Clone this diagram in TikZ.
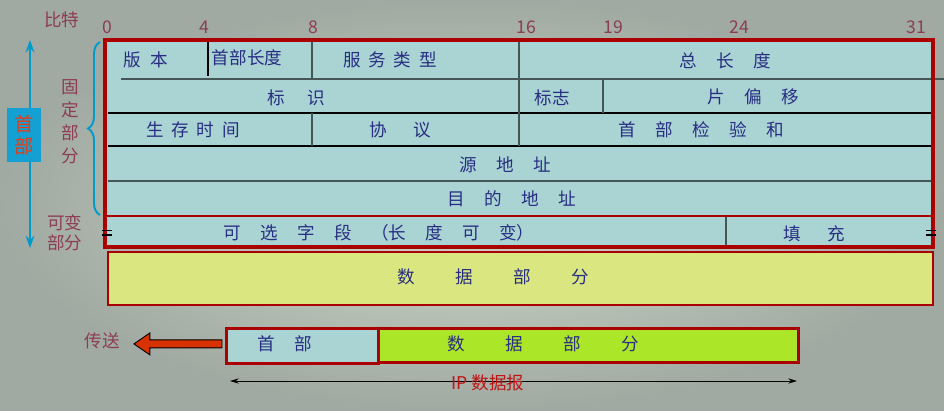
\documentclass[tikz,border=0pt]{standalone}
\usepackage{fontspec}
\newfontfamily\cjk{Noto Sans CJK SC}
\usetikzlibrary{calc,arrows.meta,decorations.pathreplacing}
\definecolor{bgin}{RGB}{208,216,200}
\definecolor{bgout}{RGB}{160,170,162}
\definecolor{cellblue}{RGB}{170,212,212}
\definecolor{txtblue}{RGB}{40,45,130}
\definecolor{framered}{RGB}{170,0,0}
\definecolor{datayellow}{RGB}{218,230,128}
\definecolor{datagreen}{RGB}{172,230,40}
\definecolor{maroon}{RGB}{140,60,85}
\definecolor{arrowblue}{RGB}{0,155,205}
\definecolor{headbox}{RGB}{20,160,210}
\definecolor{headtext}{RGB}{230,60,20}
\definecolor{sendred}{RGB}{215,50,0}
\definecolor{iptext}{RGB}{190,20,20}
\definecolor{gridgray}{RGB}{70,85,85}
\newcommand\gp[1]{\hspace{#1pt}}
\tikzset{
  celltext/.style={font=\cjk\fontsize{10}{12}\selectfont, text=txtblue, inner sep=0pt},
  sidetext/.style={font=\cjk\fontsize{10}{12}\selectfont, text=maroon, inner sep=0pt},
  bitnum/.style={font=\cjk\fontsize{10}{12}\selectfont, text=maroon, inner sep=0pt},
  gridline/.style={draw=gridgray, line width=0.9pt},
  blackline/.style={draw=black, line width=0.7pt},
}
\begin{document}
\begin{tikzpicture}[x=0.02cm,y=-0.02cm]
\useasboundingbox (0,0) rectangle (944,410);
\shade[inner color=bgin, outer color=bgout] (0,0) rectangle (944,410);

% bit scale
\node[sidetext] (bit) at (62,20) {比特};
\node[bitnum] (b0) at (107,27) {0};
\node[bitnum] (b4) at (204,27) {4};
\node[bitnum] (b8) at (313,27) {8};
\node[bitnum] (b16) at (526,27) {16};
\node[bitnum] (b19) at (613,27) {19};
\node[bitnum] (b24) at (739,27) {24};
\node[bitnum] (b31) at (916,27) {31};

% header table fill
\fill[cellblue] (105,40) rectangle (933,247);
% grid lines
\draw[gridline] (121,79) -- (944,79);
\draw[blackline] (108,113) -- (932,113);
\draw[blackline] (108,146) -- (932,146);
\draw[gridline] (108,181) -- (932,181);
\draw[blackline] (208,42) -- (208,76);
\draw[gridline] (312,42) -- (312,78);
\draw[gridline] (519,42) -- (519,146);
\draw[gridline] (603,79) -- (603,113);
\draw[gridline] (312,113) -- (312,146);
\draw[gridline] (726,216) -- (726,247);
\draw[draw=framered, line width=1.6pt] (105,216) -- (933,216);
\draw[draw=framered, line width=2.8pt] (105,40) rectangle (933,247);

% break marks
\draw[black, line width=0.9pt] (102,230.5) -- (112,230.5) (102,235) -- (112,235);
\draw[black, line width=0.9pt] (926,230.5) -- (936,230.5) (926,235) -- (936,235);

% cell texts
\node[celltext] (ver) at (146,60) {版\gp{5.5}本};
\node[celltext] (ihl) at (247,58) {首部长度};
\node[celltext] (tos) at (390,60) {服\gp{4.5}务\gp{4.5}类\gp{4.5}型};
\node[celltext] (tlen) at (725,61) {总\gp{11}长\gp{11}度};
\node[celltext] (ident) at (296,98) {标\gp{13}识};
\node[celltext] (flags) at (552,98) {标志};
\node[celltext] (frag) at (753,97) {片\gp{11}偏\gp{11}移};
\node[celltext] (ttl) at (193,130) {生\gp{4.5}存\gp{4.5}时\gp{4.5}间};
\node[celltext] (proto) at (400,130) {协\gp{15}议};
\node[celltext] (csum) at (701,130) {首\gp{11}部\gp{11}检\gp{11}验\gp{11}和};
\node[celltext] (src) at (505,165) {源\gp{11}地\gp{11}址};
\node[celltext] (dst) at (512,199) {目\gp{11}的\gp{11}地\gp{11}址};
\node[celltext] (opt) at (379,233) {可\gp{11}选\gp{11}字\gp{11}段\gp{11}（长\gp{11}度\gp{11}可\gp{11}变）};
\node[celltext] (pad) at (814,234) {填\gp{15}充};

% data part
\node[draw=framered, fill=datayellow, line width=1.2pt, minimum width=825*0.02cm, minimum height=53*0.02cm, anchor=north west, inner sep=0pt] (data) at (107,251) {};
\node[celltext] (datatxt) at (493,277) {数\gp{23}据\gp{23}部\gp{23}分};

% left side
\node[sidetext, align=center] (fixed) at (70,122) {固\\[1pt]定\\[1pt]部\\[1pt]分};
\node[sidetext, align=center] (var) at (65,233) {可变\\[-0.5pt]部分};
\coordinate (brtop) at (100,42);
\coordinate (brbot) at (100,215);
\draw[arrowblue, line width=1.1pt, decorate, decoration={brace, amplitude=0.24cm}] (brbot) -- (brtop);
\coordinate (hatop) at (30,40);
\coordinate (habot) at (30,248);
\draw[arrowblue, line width=1.1pt, {Stealth[length=7pt,width=5pt]}-{Stealth[length=7pt,width=5pt]}] (habot) -- (hatop);
\node[fill=headbox, minimum width=34*0.02cm, minimum height=54*0.02cm, inner sep=0pt, font=\cjk\fontsize{11}{13}\selectfont, text=headtext, align=center] (hdrlbl) at (24,135) {首\\[-0.5pt]部};

% bottom datagram
\node[draw=framered, fill=cellblue, line width=1.6pt, minimum width=152*0.02cm, minimum height=35*0.02cm, anchor=north west, inner sep=0pt] (hdr) at (225,327) {};
\node[draw=framered, fill=datagreen, line width=1.6pt, minimum width=420*0.02cm, minimum height=34*0.02cm, anchor=north west, inner sep=0pt] (pay) at (377,327) {};
\node[celltext] (hdrtxt) at (285,344) {首\gp{11}部};
\node[celltext] (paytxt) at (543,344) {数\gp{23}据\gp{23}部\gp{23}分};

% send arrow
\node[sidetext] (send) at (102,341) {传送};
\coordinate (tail) at ($(hdr.west)+(-3,-2)$);
\coordinate (tipx) at ($(send.east)+(14,0)$);
\coordinate (tip) at (tipx |- tail);
\filldraw[fill=sendred, draw=black, line width=0.5pt]
  ($(tail)+(0,-4)$) -- ($(tip)+(16,-4)$) -- ($(tip)+(16,-11)$) -- (tip)
  -- ($(tip)+(16,11)$) -- ($(tip)+(16,4)$) -- ($(tail)+(0,4)$) -- cycle;

% IP datagram span
\coordinate (ipl) at (230,381);
\coordinate (ipr) at (797,381);
\draw[black, line width=0.5pt, {Stealth[length=5pt,width=3pt]}-{Stealth[length=5pt,width=3pt]}] (ipl) -- (ipr);
\node[font=\cjk\fontsize{10}{12}\selectfont, text=iptext, inner sep=0pt] (iplbl) at (488,383) {IP 数据报};
\end{tikzpicture}
\end{document}
